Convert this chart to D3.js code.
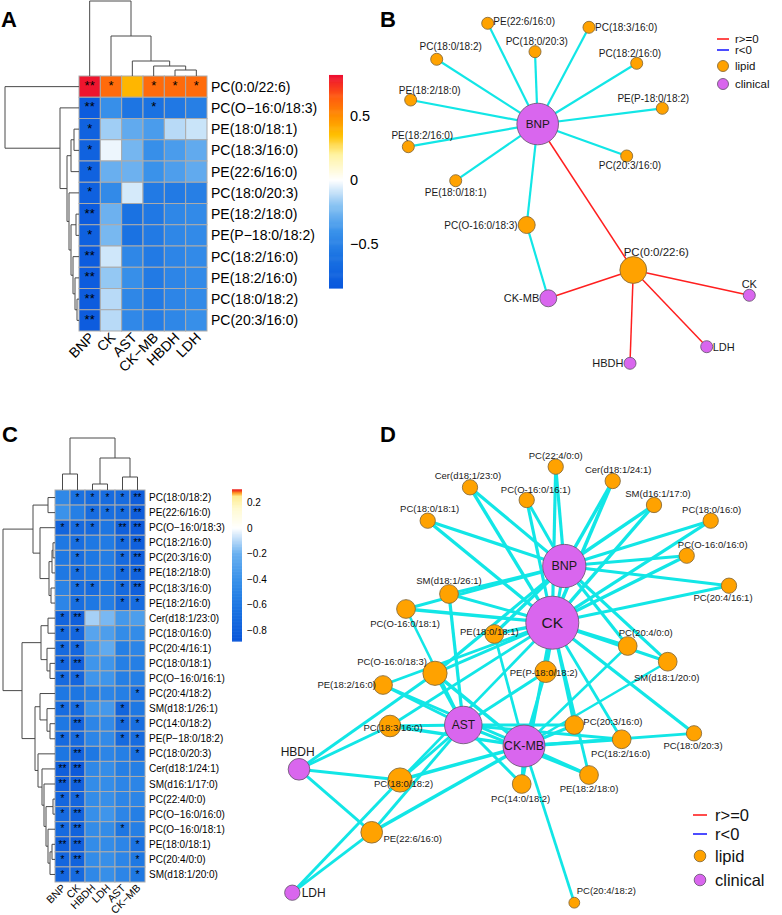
<!DOCTYPE html>
<html><head><meta charset="utf-8">
<script src="https://cdn.jsdelivr.net/npm/d3@7"></script>
<style>body{margin:0;background:#fff}svg{display:block}</style>
</head><body>
<svg id="chart" width="782" height="915"></svg>
<script>
// ================= DATA =================
// Panel A heatmap
const clinicalA = ["BNP","CK","AST","CK-MB","HBDH","LDH"];
const lipidsA = ["PC(0:0/22:6)","PC(O-16:0/18:3)","PE(18:0/18:1)","PC(18:3/16:0)","PE(22:6/16:0)","PC(18:0/20:3)","PE(18:2/18:0)","PE(P-18:0/18:2)","PC(18:2/16:0)","PE(18:2/16:0)","PC(18:0/18:2)","PC(20:3/16:0)"];
const valuesA = [
 [0.80,0.60,0.38,0.60,0.60,0.60],
 [-0.80,-0.42,-0.58,-0.60,-0.56,-0.52],
 [-0.75,-0.16,-0.30,-0.36,-0.12,-0.09],
 [-0.75,-0.03,-0.25,-0.42,-0.36,-0.30],
 [-0.75,-0.28,-0.27,-0.40,-0.35,-0.30],
 [-0.76,-0.45,-0.07,-0.55,-0.55,-0.52],
 [-0.80,-0.27,-0.60,-0.56,-0.47,-0.45],
 [-0.76,-0.24,-0.60,-0.55,-0.47,-0.45],
 [-0.80,-0.08,-0.47,-0.55,-0.48,-0.45],
 [-0.80,-0.18,-0.42,-0.55,-0.48,-0.45],
 [-0.80,-0.12,-0.47,-0.55,-0.48,-0.45],
 [-0.80,-0.12,-0.46,-0.53,-0.47,-0.42]];
const starsA = [
 ["**","*","","*","*","*"],["**","","","*","",""],["*","","","","",""],["*","","","","",""],
 ["*","","","","",""],["*","","","","",""],["**","","","","",""],["*","","","","",""],
 ["**","","","","",""],["**","","","","",""],["**","","","","",""],["**","","","","",""]];
// dendrograms: [left, right, height]
const colTreeA = [0,[1,[2,[3,[4,5,6],10],15],40],75];
const rowTreeA = [0,[1,[[[2,3,5],4,8],[5,[[6,7,3],[8,[9,[10,11,2],4],6],8],10],12],19],74];
const legendTicksA = [0.5,0,-0.5];
const rangeA = [-0.84,0.81];

// Panel C heatmap
const clinicalC = ["BNP","CK","HBDH","LDH","AST","CK-MB"];
const lipidsC = ["PC(18:0/18:2)","PE(22:6/16:0)","PC(O-16:0/18:3)","PC(18:2/16:0)","PC(20:3/16:0)","PE(18:2/18:0)","PC(18:3/16:0)","PE(18:2/16:0)","Cer(d18:1/23:0)","PC(18:0/16:0)","PC(20:4/16:1)","PC(18:0/18:1)","PC(O-16:0/16:1)","PC(20:4/18:2)","SM(d18:1/26:1)","PC(14:0/18:2)","PE(P-18:0/18:2)","PC(18:0/20:3)","Cer(d18:1/24:1)","SM(d16:1/17:0)","PC(22:4/0:0)","PC(O-16:0/16:0)","PC(O-16:0/18:1)","PE(18:0/18:1)","PC(20:4/0:0)","SM(d18:1/20:0)"];
const valuesC = [
 [-0.48,-0.66,-0.70,-0.70,-0.70,-0.82],
 [-0.40,-0.55,-0.70,-0.68,-0.70,-0.82],
 [-0.76,-0.72,-0.72,-0.62,-0.80,-0.84],
 [-0.60,-0.68,-0.60,-0.58,-0.72,-0.80],
 [-0.60,-0.68,-0.60,-0.56,-0.72,-0.80],
 [-0.60,-0.68,-0.60,-0.58,-0.72,-0.78],
 [-0.52,-0.68,-0.70,-0.60,-0.72,-0.80],
 [-0.50,-0.68,-0.60,-0.56,-0.72,-0.70],
 [-0.76,-0.80,-0.12,-0.18,-0.36,-0.32],
 [-0.72,-0.75,-0.28,-0.32,-0.45,-0.45],
 [-0.72,-0.75,-0.36,-0.24,-0.55,-0.50],
 [-0.75,-0.80,-0.38,-0.38,-0.55,-0.55],
 [-0.72,-0.75,-0.38,-0.38,-0.55,-0.55],
 [-0.60,-0.62,-0.55,-0.50,-0.55,-0.66],
 [-0.70,-0.72,-0.40,-0.36,-0.76,-0.60],
 [-0.60,-0.78,-0.50,-0.46,-0.72,-0.68],
 [-0.72,-0.72,-0.50,-0.46,-0.72,-0.70],
 [-0.62,-0.78,-0.60,-0.50,-0.55,-0.68],
 [-0.82,-0.85,-0.48,-0.44,-0.55,-0.55],
 [-0.80,-0.80,-0.45,-0.44,-0.50,-0.50],
 [-0.75,-0.75,-0.45,-0.42,-0.50,-0.50],
 [-0.72,-0.78,-0.42,-0.38,-0.50,-0.55],
 [-0.72,-0.78,-0.45,-0.45,-0.62,-0.55],
 [-0.80,-0.80,-0.45,-0.45,-0.50,-0.65],
 [-0.75,-0.78,-0.45,-0.42,-0.50,-0.60],
 [-0.75,-0.72,-0.48,-0.42,-0.50,-0.60]];
const starsC = [
 ["","*","*","*","*","**"],["","","*","*","*","**"],["*","*","*","","**","**"],["","*","","","*","**"],
 ["","*","","","*","**"],["","*","","","*","**"],["","*","*","","*","**"],["","*","","","*","*"],
 ["*","**","","","",""],["*","*","","","",""],["*","*","","","",""],["*","**","","","",""],
 ["*","*","","","",""],["","","","","","*"],["*","*","","","*",""],["","**","","","*","*"],
 ["*","*","","","*","*"],["","**","","","","*"],["**","**","","","",""],["**","**","","","",""],
 ["*","*","","","",""],["*","**","","","",""],["*","**","","","*",""],["**","**","","","","*"],
 ["*","**","","","","*"],["*","*","","","","*"]];
const colTreeC = [[0,1,16],[[2,3,6],[4,5,13],32],52];
const rowTreeC = [
 [[0,1,7],[2,[[[3,4,2],5,3],[6,7,4],6],15],22],
 [[[8,9,7],[10,[11,12,5],8],14],
  [[13,[14,[15,16,5],8],15],[17,[18,[19,[[20,21,2],[22,[[23,24,3],25,5],7],9],11],13],17],20],33],
 52];
const legendTicksC = [0.2,0,-0.2,-0.4,-0.6,-0.8];
const rangeC = [-0.886,0.298];

// Panel B network layout (node name, layout x, layout y)
const layoutBName = ["BNP","PC(0:0/22:6)","PC(O-16:0/18:3)","PE(18:0/18:1)","PC(18:3/16:0)","PE(22:6/16:0)","PC(18:0/20:3)","PE(18:2/18:0)","PE(P-18:0/18:2)","PC(18:2/16:0)","PE(18:2/16:0)","PC(18:0/18:2)","PC(20:3/16:0)","CK","CK-MB","HBDH","LDH"];
const layoutBX = [537.7,633.3,526.7,455.7,589,487.7,535,410.7,662.3,636.7,408.3,436.7,626.7,749.3,548.3,630,706.7];
const layoutBY = [124,270,225,180.7,27.3,23.3,51.7,100,108.3,63.3,146.7,59.3,156,295.3,298.3,363.3,346.7];
const labelBDx = [0,23,-9,0,6,5.6,1.8,19,-9,-6.7,14,14,3.3,0,-9,-6.5,6];
const labelBDy = [0,-18,0,12,0,-1.6,-10,-10,-9.5,-10,-11.7,-12.6,9.7,-11.5,0,0,0];
const labelBAnchor = ["middle","middle","end","middle","start","start","middle","middle","middle","middle","middle","middle","middle","middle","end","end","start"];
const labelBSize = [11.7,11.5,10,10,10,10,10,10,10,10,10,10,10,11,11,11,11];

// Panel D network layout
const layoutDName = ["BNP","CK","AST","CK-MB","HBDH","LDH",
 "PC(22:4/0:0)","Cer(d18:1/24:1)","Cer(d18:1/23:0)","PC(O-16:0/16:1)","SM(d16:1/17:0)","PC(18:0/18:1)","PC(18:0/16:0)","PC(O-16:0/16:0)","PC(20:4/16:1)","SM(d18:1/26:1)","PC(O-16:0/18:1)","PE(18:0/18:1)","PC(20:4/0:0)","SM(d18:1/20:0)","PC(O-16:0/18:3)","PE(P-18:0/18:2)","PE(18:2/16:0)","PC(18:3/16:0)","PC(20:3/16:0)","PC(18:2/16:0)","PC(18:0/20:3)","PC(18:0/18:2)","PE(18:2/18:0)","PC(14:0/18:2)","PE(22:6/16:0)","PC(20:4/18:2)"];
const layoutDX = [564.3,552.3,463.3,524,299,292.3, 555.7,612.7,470,526.7,654,427.7,710.7,686.7,729,449,406,494.3,627.7,667.7,435,545.7,383,390,574.3,621.7,694,400,589,521.7,371.7,574.3];
const layoutDY = [566,622.7,725,746,769.3,892.7, 466.7,481,487.3,500,505,520.7,520.7,555.7,585.7,594,609,634,646,661.7,673.3,671.7,685,726,725,739.3,733.3,780,775,784,832.3,902.7];
const labelDDx = [0,0,0,0,-1.3,9.4, 0,5.5,-2,9,4,2,1,26,-6,0,-1,-5,18,-1,-43,-2,-7,3,9,-1,-1,3.5,0,-1,41,32];
const labelDDy = [0,0,0,0,-17.6,0, -10.7,-11,-11.3,-10.7,-11.7,-11.7,-11.4,-11.4,12,-13.3,15,-2,-13.3,15.6,-11.3,0.6,0,2,-3.3,14,12.7,4,14,15,6,-12];
const labelDAnchor = layoutDName.map((n,i)=> i===5||i===24 ? "start" : (i===22 ? "end" : "middle"));
const labelDSize = layoutDName.map((n,i)=> [12.5,15.5,12,12.5,12,12][i] || 9.5);

const legendItems = ["r>=0","r<0","lipid","clinical"];

// ================= STYLE =================
const FONT = "'Liberation Sans', Arial, Helvetica, sans-serif";
const RED = "#ff1f1f", BLUE = "#1f1fff", CYAN = "#12e6e6";
const LIPID = "#ffa200", CLIN = "#d966ee";
const LIPID_STROKE = "#8a6d3b", CLIN_STROKE = "#6f5a78";
const minus = s => s.replace(/-/g,"\u2212");

const svg = d3.select("#chart").style("font-family", FONT);

const colorA = d3.scaleLinear()
 .domain([-0.84,-0.6,-0.4,-0.2,0,0.2,0.35,0.5,0.65,0.81])
 .range(["#0a58dd","#1a72e2","#3a92ea","#88c2f2","#ffffff","#fff3a0","#ffc000","#ff8c00","#ff5a10","#ee1030"]);
const colorC = d3.scaleLinear()
 .domain([-0.886,-0.6,-0.4,-0.2,0,0.15,0.25,0.275,0.298])
 .range(["#0a56d9","#1e78e3","#3a92ea","#6ab0f0","#ffffff","#fffad2","#ffec90","#ff9a20","#ee2a20"]);

// ================= HELPERS =================
function drawDendro(g, tree, leafScale, hScale, orient){
  const paths = [];
  (function rec(n){
    if (typeof n === "number") return {p: leafScale(n) + leafScale.bandwidth()/2, h: 0};
    const a = rec(n[0]), b = rec(n[1]), h = n[2];
    const H = hScale(h), Ha = hScale(a.h), Hb = hScale(b.h);
    paths.push(orient === "top"
      ? `M${a.p},${Ha}V${H}H${b.p}V${Hb}`
      : `M${Ha},${a.p}H${H}V${b.p}H${Hb}`);
    return {p:(a.p+b.p)/2, h};
  })(tree);
  g.selectAll(null).data(paths).enter().append("path")
    .attr("d", d=>d).attr("fill","none").attr("stroke","#4a4a4a").attr("stroke-width",1);
}

function drawHeatmap(o){
  const g = svg.append("g");
  const xs = d3.scaleBand().domain(d3.range(o.cols.length)).range([o.x0, o.x0 + o.cw*o.cols.length]);
  const ys = d3.scaleBand().domain(d3.range(o.rows.length)).range([o.y0, o.y0 + o.ch*o.rows.length]);
  const cells = [];
  o.values.forEach((row,i)=>row.forEach((v,j)=>cells.push({i,j,v,s:o.stars[i][j]})));
  g.selectAll("rect.cell").data(cells).enter().append("rect")
    .attr("x", d=>xs(d.j)).attr("y", d=>ys(d.i))
    .attr("width", xs.bandwidth()).attr("height", ys.bandwidth())
    .attr("fill", d=>o.color(d.v)).attr("stroke","#ababab").attr("stroke-width",1);
  g.selectAll("text.star").data(cells.filter(d=>d.s)).enter().append("text")
    .attr("x", d=>xs(d.j)+xs.bandwidth()/2).attr("y", d=>ys(d.i)+ys.bandwidth()/2 + o.starDy)
    .attr("text-anchor","middle").attr("font-size", o.starFs).attr("fill","#000").text(d=>d.s);
  g.selectAll("text.row").data(o.rows).enter().append("text")
    .attr("x", o.x0 + o.cw*o.cols.length + 4).attr("y", (d,i)=>ys(i)+ys.bandwidth()/2)
    .attr("dy","0.35em").attr("font-size", o.rowFs).attr("fill","#000").text(d=>minus(d));
  const yb = o.y0 + o.ch*o.rows.length + o.colGap;
  g.selectAll("text.col").data(o.cols).enter().append("text")
    .attr("transform", (d,i)=>`translate(${xs(i)+xs.bandwidth()/2 + o.colShift},${yb}) rotate(-45)`)
    .attr("text-anchor","end").attr("dy","0.35em").attr("font-size", o.colFs).attr("fill","#000").text(d=>minus(d));
  drawDendro(g, o.colTree, xs, d3.scaleLinear().domain([0, o.colTree[2]]).range([o.y0, o.colTop]), "top");
  drawDendro(g, o.rowTree, ys, d3.scaleLinear().domain([0, o.rowTree[2]]).range([o.x0, o.rowLeft]), "left");
  // colour legend
  const ly = d3.scaleLinear().domain(o.range).range([o.lgY1, o.lgY0]);
  const steps = d3.range(0, 200).map(k => o.range[0] + (o.range[1]-o.range[0])*k/199);
  const stepH = (o.lgY1 - o.lgY0)/200;
  g.selectAll("rect.lg").data(steps).enter().append("rect")
    .attr("x", o.lgX).attr("y", d=>ly(d) - stepH).attr("width", o.lgW).attr("height", stepH + 0.6)
    .attr("fill", d=>o.color(d));
  g.selectAll("text.lg").data(o.ticks).enter().append("text")
    .attr("x", o.lgX + o.lgW + o.lgPad).attr("y", d=>ly(d)).attr("dy","0.35em")
    .attr("font-size", o.lgFs).attr("fill","#000")
    .text(d => d === 0 ? "0" : minus(String(d)));
}

function edgesFrom(lipids, clinical, values, stars){
  const e = [];
  lipids.forEach((l,i)=>clinical.forEach((c,j)=>{ if (stars[i][j]) e.push({s:l, t:c, r:values[i][j]}); }));
  return e;
}

function drawNetwork(o){
  const g = svg.append("g");
  const idx = new Map(o.names.map((n,i)=>[n,i]));
  const deg = o.names.map(()=>0);
  o.edges.forEach(e=>{deg[idx.get(e.s)]++; deg[idx.get(e.t)]++;});
  const xS = d3.scaleIdentity(), yS = d3.scaleIdentity();
  const rS = d3.scaleSqrt().domain([0, o.degMax]).range([0, o.rMax]);
  const clin = new Set(o.clinical);
  g.selectAll("line").data(o.edges).enter().append("line")
    .attr("x1", e=>xS(o.lx[idx.get(e.s)])).attr("y1", e=>yS(o.ly[idx.get(e.s)]))
    .attr("x2", e=>xS(o.lx[idx.get(e.t)])).attr("y2", e=>yS(o.ly[idx.get(e.t)]))
    .attr("stroke", e=> e.r >= 0 ? RED : CYAN).attr("stroke-width", e=>o.edgeW(e));
  g.selectAll("circle").data(o.names).enter().append("circle")
    .attr("cx",(d,i)=>xS(o.lx[i])).attr("cy",(d,i)=>yS(o.ly[i])).attr("r",(d,i)=>rS(deg[i]))
    .attr("fill", d=> clin.has(d) ? CLIN : LIPID)
    .attr("stroke", d=> clin.has(d) ? CLIN_STROKE : LIPID_STROKE).attr("stroke-width",0.9);
  g.selectAll("text").data(o.names).enter().append("text")
    .attr("x",(d,i)=>xS(o.lx[i]) + o.dx[i]).attr("y",(d,i)=>yS(o.ly[i]) + o.dy[i]).attr("dy","0.35em")
    .attr("text-anchor",(d,i)=>o.anchor[i]).attr("font-size",(d,i)=>o.size[i]).attr("fill","#1a1a1a")
    .text(d=>d);
}

function drawLegend(x, y0, gap, fs, lineW, r){
  const g = svg.append("g");
  legendItems.forEach((t,k)=>{
    const y = y0 + gap[k];
    if (k < 2) g.append("line").attr("x1",x).attr("x2",x+lineW).attr("y1",y).attr("y2",y)
       .attr("stroke", k===0 ? RED : BLUE).attr("stroke-width",1.6);
    else g.append("circle").attr("cx",x+lineW/2).attr("cy",y).attr("r",r)
       .attr("fill", k===2 ? LIPID : CLIN).attr("stroke", k===2 ? LIPID_STROKE : CLIN_STROKE).attr("stroke-width",0.9);
    g.append("text").attr("x", x+lineW+ (fs>14?8:6)).attr("y",y).attr("dy","0.35em")
      .attr("font-size",fs).attr("fill","#111").text(t);
  });
}

// ================= PANELS =================
drawHeatmap({rows:lipidsA, cols:clinicalA, values:valuesA, stars:starsA, color:colorA,
  x0:79, y0:76, cw:128/6, ch:255/12, rowFs:14, colFs:14, colGap:4, colShift:2, starFs:13, starDy:3.5,
  colTree:colTreeA, colTop:1, rowTree:rowTreeA, rowLeft:5,
  range:rangeA, ticks:legendTicksA, lgX:329, lgW:14, lgY0:76, lgY1:288, lgPad:7, lgFs:14.5});

drawHeatmap({rows:lipidsC, cols:clinicalC, values:valuesC, stars:starsC, color:colorC,
  x0:55, y0:490, cw:15, ch:392/26, rowFs:10, colFs:10.5, colGap:4, colShift:1, starFs:10, starDy:3.2,
  colTree:colTreeC, colTop:438, rowTree:rowTreeC, rowLeft:3,
  range:rangeC, ticks:legendTicksC, lgX:232, lgW:10, lgY0:490, lgY1:641, lgPad:5, lgFs:10});

drawNetwork({names:layoutBName, clinical:clinicalA, lx:layoutBX, ly:layoutBY,
  dx:labelBDx, dy:labelBDy, anchor:labelBAnchor, size:labelBSize,
  edges: edgesFrom(lipidsA, clinicalA, valuesA, starsA), degMax:12, rMax:20.8,
  edgeW: e => e.r >= 0 ? 1.5 : 2.2});

const wD = d3.scaleLinear().domain([0.4,0.85]).range([1.6,3.6]).clamp(true);
drawNetwork({names:layoutDName, clinical:clinicalC, lx:layoutDX, ly:layoutDY,
  dx:labelDDx, dy:labelDDy, anchor:labelDAnchor, size:labelDSize,
  edges: edgesFrom(lipidsC, clinicalC, valuesC, starsC), degMax:24, rMax:26.5,
  edgeW: e => wD(Math.abs(e.r))});

drawLegend(717, 39, [0,11,27,45], 11.5, 12, 5.5);
drawLegend(693, 815, [0,19,41,65], 16.5, 14, 5.8);

// panel letters
[["A",1,27],["B",380,27],["C",2,442],["D",380,442]].forEach(([t,x,y])=>
  svg.append("text").attr("x",x).attr("y",y).attr("font-size",22).attr("font-weight","bold").attr("fill","#000").text(t));
</script>
</body></html>
